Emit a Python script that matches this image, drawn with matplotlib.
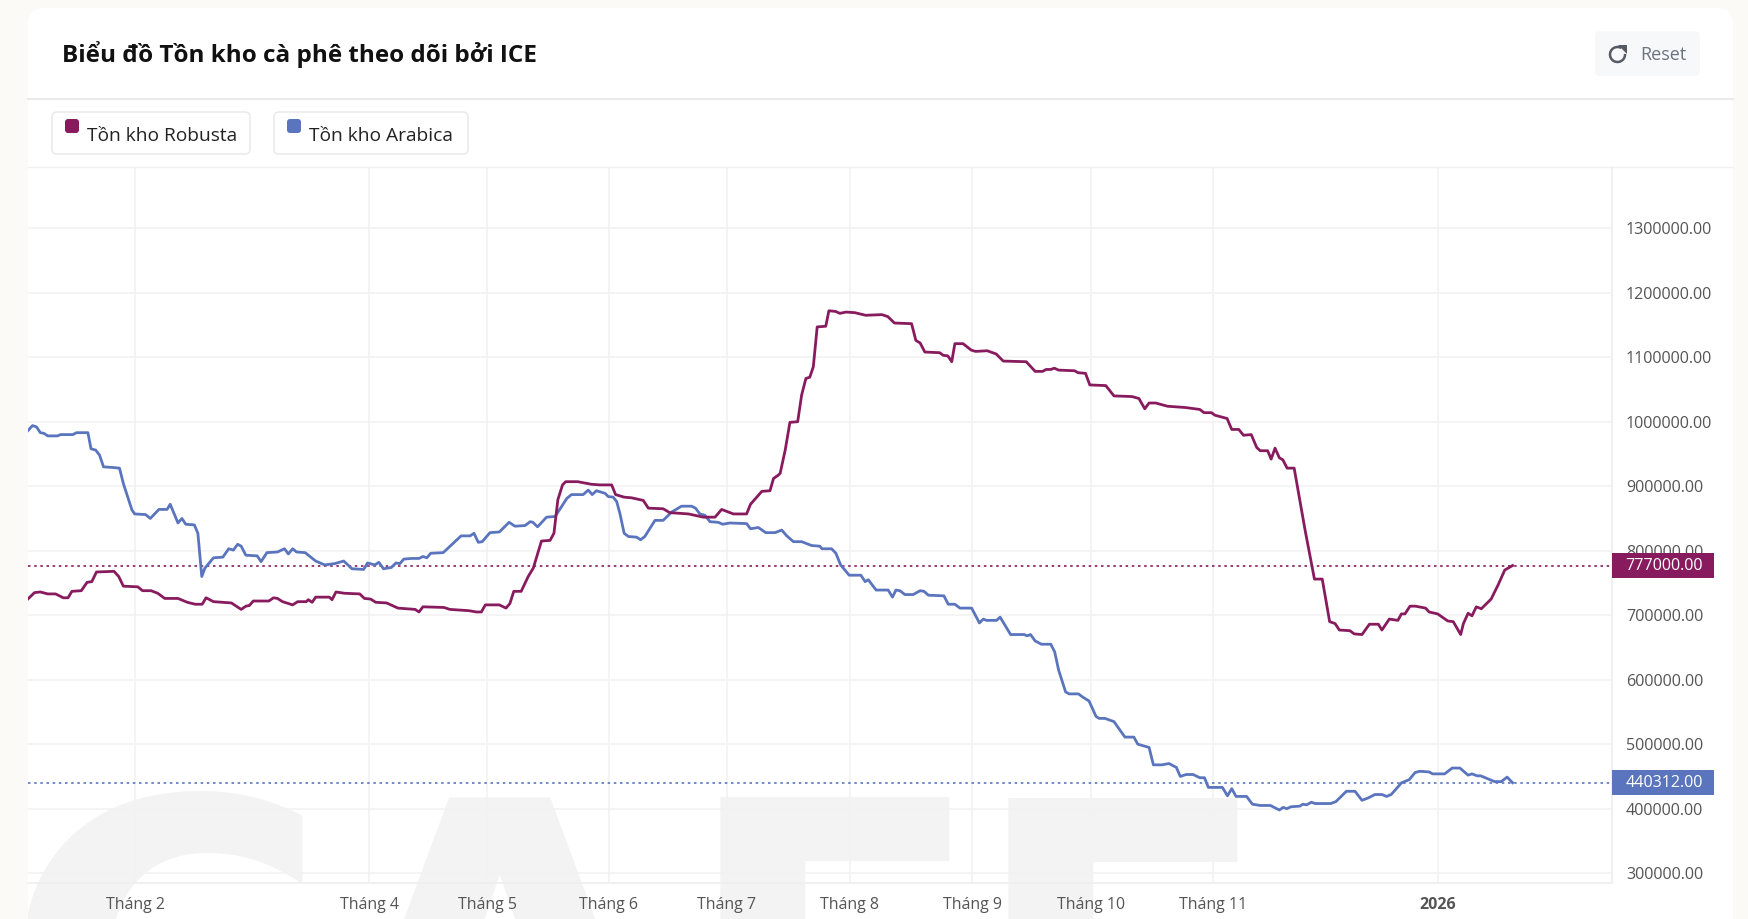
import numpy as np
import matplotlib
import matplotlib.pyplot as plt
from matplotlib.patches import FancyBboxPatch, Polygon, Rectangle

matplotlib.use('Agg')
plt.rcParams['font.family'] = ['Open Sans', 'DejaVu Sans']

TITLE = 'Biểu đồ Tồn kho cà phê theo dõi bởi ICE'
ROBUSTA_LABEL = 'Tồn kho Robusta'
ARABICA_LABEL = 'Tồn kho Arabica'

# x is the bar position of the chart, counted from the "Tháng 2" tick
month_ticks = [0, 59.9, 90.2, 121.3, 151.6, 183.1, 214.5, 244.9, 276.3, 334]
month_labels = ['Tháng 2', 'Tháng 4', 'Tháng 5', 'Tháng 6', 'Tháng 7', 'Tháng 8',
	'Tháng 9', 'Tháng 10', 'Tháng 11', '2026']
price_ticks = [300000, 400000, 500000, 600000, 700000, 800000, 900000,
	1000000, 1100000, 1200000, 1300000]

robusta_last = 777000
arabica_last = 440312

# values in thousands
robusta_x = [-27.6, -25.9, -24.4, -22.5, -20.5, -18.5, -17.3, -16.3, -13.9, -12.4, -11.2, -10.0, -5.5, -4.3, -3.1,
	0.6, 1.8, 4.0, 5.7, 7.5, 10.9, 13.3, 15.3, 17.1, 18.1, 20.0, 24.6, 27.1, 28.3, 29.2, 30.2, 34.2, 35.4, 36.4,
	37.7, 40.3, 41.6, 43.8, 44.3, 45.3, 46.2, 49.7, 50.4, 51.4, 53.6, 57.5, 58.7, 60.3, 61.6, 64.4, 67.3, 71.7,
	72.7, 73.7, 79.1, 80.6, 85.5, 87.4, 88.7, 89.7, 93.3, 95.0, 96.0, 97.0, 98.9, 100.7, 102.0, 104.1, 106.3,
	107.3, 108.3, 109.5, 110.3, 113.4, 116.9, 119.1, 122.1, 123.1, 125.3, 127.2, 130.2, 131.5, 135.3, 137.0,
	141.8, 145.6, 148.6, 150.3, 153.3, 156.7, 157.7, 160.6, 162.7, 163.6, 164.8, 165.3, 166.6, 167.8, 169.8,
	170.8, 171.9, 172.9, 173.8, 174.8, 177.0, 177.8, 179.5, 180.6, 182.2, 184.5, 187.2, 191.4, 192.9, 194.6,
	199.0, 200.1, 201.2, 202.4, 206.2, 207.1, 208.3, 209.3, 210.1, 212.2, 214.3, 215.4, 218.4, 220.7, 222.5,
	228.4, 230.7, 232.6, 233.5, 234.7, 235.6, 236.7, 240.8, 241.7, 243.6, 244.7, 248.8, 250.9, 255.5, 257.3,
	258.8, 259.9, 261.6, 264.6, 269.2, 272.9, 274.0, 275.9, 276.8, 279.9, 281.1, 282.9, 284.1, 286.1, 287.5,
	288.4, 290.3, 291.2, 292.2, 293.3, 294.2, 295.3, 297.1, 298.0, 299.9, 301.6, 302.3, 304.3, 306.2, 307.6,
	308.7, 311.4, 312.5, 314.5, 316.4, 318.7, 319.6, 321.5, 323.7, 324.6, 325.5, 326.8, 328.2, 330.8, 331.7,
	333.9, 336.5, 337.9, 339.8, 340.5, 341.7, 342.7, 343.8, 345.1, 347.6, 349.4, 351.1, 353.1]
robusta_k = [725, 735, 736, 733, 733, 727, 727, 737, 738, 751, 752, 767, 768, 760, 745,
	744, 738, 738, 734, 726, 726, 720, 717, 717, 727, 721, 719, 709, 714, 715, 722, 722, 727, 726,
	721, 716, 721, 721, 724, 720, 728, 728, 724, 736, 734, 733, 726, 725, 720, 719, 711, 709,
	705, 713, 712, 709, 707, 705, 705, 716, 716, 711, 718, 737, 737, 760, 773, 815, 816,
	827, 879, 902, 907, 907, 903, 902, 902, 887, 883, 882, 878, 866, 865, 859,
	857, 852, 852, 864, 857, 857, 872, 892, 893, 912, 917, 920, 956, 999, 1000,
	1041, 1067, 1069, 1085, 1147, 1148, 1172, 1171, 1168, 1170, 1169, 1165, 1166, 1163, 1153,
	1152, 1126, 1122, 1108, 1107, 1103, 1102, 1093, 1121, 1121, 1111, 1109, 1110, 1105, 1094,
	1093, 1078, 1078, 1081, 1081, 1083, 1080, 1079, 1076, 1075, 1057, 1056, 1040, 1039, 1036,
	1020, 1029, 1029, 1024, 1022, 1019, 1014, 1014, 1010, 1005, 988, 988, 979, 980, 960,
	955, 955, 942, 959, 944, 941, 928, 928, 897, 832, 778, 756, 756, 690, 687,
	677, 676, 671, 670, 686, 686, 677, 694, 692, 702, 702, 714, 714, 711, 705,
	702, 691, 690, 670, 687, 703, 699, 713, 710, 725, 747, 770, 777]

arabica_x = [-27.6, -26.4, -25.4, -24.4, -23.5, -22.5, -20.0, -19.2, -16.1, -15.1, -12.2, -11.4, -10.2, -9.2, -8.2,
	-5.8, -4.1, -3.1, -0.9, -0.2, 2.6, 3.8, 6.0, 8.1, 8.9, 10.9, 11.9, 12.9, 15.1, 16.0, 17.0, 17.8, 20.0, 22.4,
	23.9, 25.1, 26.2, 27.1, 28.3, 31.2, 32.2, 33.7, 36.4, 38.2, 39.2, 40.3, 41.3, 43.5, 46.2, 48.5, 51.1, 53.4,
	55.5, 58.5, 59.5, 61.4, 62.4, 63.6, 65.6, 66.8, 67.8, 68.8, 70.8, 72.7, 73.7, 74.7, 75.7, 78.9, 83.5, 85.8,
	86.8, 87.9, 88.9, 90.9, 93.3, 95.8, 97.3, 99.9, 101.2, 101.9, 103.1, 105.4, 107.6, 110.6, 111.8, 114.8, 116.1,
	117.1, 118.2, 120.4, 121.2, 122.5, 123.4, 124.2, 125.3, 126.4, 128.5, 129.5, 130.6, 133.2, 135.3, 137.5,
	140.0, 142.6, 143.6, 144.7, 146.0, 147.3, 149.4, 150.6, 152.4, 156.7, 157.7, 159.7, 161.6, 164.0, 165.7,
	167.0, 168.7, 170.8, 173.4, 175.5, 176.0, 178.5, 179.6, 180.8, 183.0, 186.0, 187.1, 187.9, 189.9, 193.0,
	194.1, 195.0, 196.0, 197.3, 199.4, 201.2, 202.2, 203.3, 207.3, 208.4, 210.1, 211.4, 214.4, 216.4, 217.4,
	218.2, 220.8, 221.7, 224.4, 227.9, 228.6, 229.5, 230.7, 232.3, 234.7, 235.7, 236.7, 238.5, 239.4, 241.8,
	242.9, 244.5, 246.3, 247.1, 248.6, 250.9, 253.7, 256.0, 257.0, 259.9, 261.0, 263.2, 265.0, 266.9, 267.9,
	269.4, 271.2, 272.9, 274.1, 275.1, 278.7, 280.0, 281.1, 282.2, 284.9, 286.4, 288.4, 291.0, 293.3, 294.3,
	295.2, 296.3, 298.6, 299.3, 300.3, 301.5, 302.5, 306.5, 307.8, 310.5, 312.7, 314.5, 316.2, 317.8, 319.6,
	320.8, 322.0, 324.6, 326.6, 328.1, 329.3, 331.7, 332.6, 335.7, 337.6, 339.6, 341.7, 342.7, 344.0, 344.9,
	348.5, 350.2, 351.7, 353.1]
arabica_k = [986, 994, 992, 983, 982, 978, 978, 980, 980, 983, 983, 958, 956, 948, 930,
	929, 928, 904, 863, 857, 856, 850, 864, 864, 872, 843, 850, 841, 840, 827, 760, 773, 789, 790,
	803, 801, 810, 807, 793, 792, 783, 797, 798, 803, 795, 803, 798, 797, 784, 778, 780, 784,
	772, 771, 781, 778, 782, 772, 774, 781, 780, 787, 788, 788, 791, 789, 796, 797, 823, 823,
	827, 813, 814, 828, 829, 844, 838, 839, 845, 844, 837, 852, 853, 881, 887, 887, 894,
	887, 893, 889, 884, 883, 876, 858, 827, 822, 821, 817, 822, 847, 847, 860,
	869, 869, 866, 857, 855, 845, 844, 841, 843, 842, 834, 836, 828, 828, 832,
	823, 814, 814, 808, 807, 803, 803, 796, 778, 762, 762, 752, 755, 739, 739,
	728, 739, 738, 732, 732, 738, 737, 731, 730, 717, 717, 711, 711, 688, 694,
	692, 692, 697, 670, 670, 668, 670, 660, 655, 655, 643, 615, 581, 578, 578,
	573, 567, 543, 540, 540, 535, 511, 511, 500, 495, 468, 468, 470, 464, 450,
	453, 453, 448, 448, 433, 433, 420, 431, 419, 419, 407, 405, 405, 398, 402,
	400, 403, 404, 407, 406, 410, 408, 408, 411, 427, 427, 413, 417, 422, 422,
	419, 422, 440, 445, 456, 458, 457, 454, 454, 463, 463, 452, 454, 451, 451,
	442, 442, 449, 440.312]

ROBUSTA_COLOR = '#881b5e'
ARABICA_COLOR = '#5a75bd'
GRID_COLOR = '#f2f2f3'
TICK_COLOR = '#555555'


def draw_chrome(bg):
	# page, card and the header of the widget, in pixels of the screenshot
	bg.add_patch(FancyBboxPatch((28, 8), 1705, 960, boxstyle='round,pad=0,rounding_size=16',
		fc='white', ec='none', zorder=1))
	for left, letter in zip([0, 325, 679, 967], 'CAFE'):
		bg.text(left, 1127, letter, fontsize=325, fontweight='bold', color='#f3f3f3',
			family='DejaVu Sans', ha='left', va='baseline', zorder=2)
	bg.add_patch(Rectangle((0, 0), 28, 919, fc='#fbfaf7', ec='none', zorder=3))

	bg.plot([28, 1733], [99, 99], color='#e6e6e6', lw=1.2, zorder=3)
	bg.plot([28, 1733], [167, 167], color='#f0f0f0', lw=1.0, zorder=3)
	bg.text(62, 55, TITLE, fontsize=17.5, fontweight='bold', color='#111111', ha='left', va='center', zorder=4)

	# reset button
	bg.add_patch(FancyBboxPatch((1595, 31), 105, 45, boxstyle='round,pad=0,rounding_size=5',
		fc='#f6f8fa', ec='none', zorder=3))
	t = np.radians(np.arange(5, 295, 5))
	bg.plot(1617.5 + 7.5 * np.cos(t), 54.5 + 7.5 * np.sin(t), color='#555b63', lw=1.8, zorder=4)
	bg.add_patch(Polygon([[1618, 45], [1627, 45], [1627, 54]], fc='#555b63', ec='none', zorder=4))
	bg.text(1640, 55, 'Reset', fontsize=13, color='#6b7280', ha='left', va='center', zorder=4)

	# legend chips
	chips = [(52, 198, ROBUSTA_LABEL, ROBUSTA_COLOR), (274, 194, ARABICA_LABEL, ARABICA_COLOR)]
	for left, width, label, color in chips:
		bg.add_patch(FancyBboxPatch((left, 112), width, 42, boxstyle='round,pad=0,rounding_size=5',
			fc='white', ec='#e8e8e8', lw=1.0, zorder=3))
		bg.add_patch(FancyBboxPatch((left + 13, 119), 14, 14, boxstyle='round,pad=0,rounding_size=3',
			fc=color, ec='none', zorder=4))
		bg.text(left + 35, 136, label, fontsize=13.8, color='#222222', ha='left', va='center', zorder=4)


def draw_last_value(ax, value, color):
	ax.axhline(value, color=color, lw=1.2, ls=(0, (1.5, 2.2)), zorder=2)
	trans = ax.get_yaxis_transform()
	ax.text(1.0 + 52 / 1584, value, f'{value:.2f}', transform=trans, fontsize=11.6, color='white',
		ha='center', va='center', zorder=6, clip_on=False)
	ax.add_patch(FancyBboxPatch((1.0, value - 19000), 102 / 1584, 38000, transform=trans,
		boxstyle='square,pad=0', fc=color, ec='none', zorder=5, clip_on=False))


def main():
	fig = plt.figure(figsize=(17.48, 9.19), dpi=100, facecolor='#fbfaf7')

	bg = fig.add_axes([0, 0, 1, 1], zorder=0)
	bg.set_xlim(0, 1748)
	bg.set_ylim(919, 0)
	bg.axis('off')
	draw_chrome(bg)

	ax = fig.add_axes([28 / 1748, 1 - 883 / 919, 1584 / 1748, 716 / 919], zorder=1)
	ax.patch.set_alpha(0)
	ax.set_xlim(-27.56, 378.6)
	ax.set_ylim(284800, 1394900)
	ax.yaxis.tick_right()

	ax.set_xticks(month_ticks, month_labels, fontsize=11.5, color=TICK_COLOR)
	ax.get_xticklabels()[-1].set_fontweight('bold')
	ax.set_yticks(price_ticks, [f'{p:.2f}' for p in price_ticks], fontsize=11.6, color=TICK_COLOR)
	ax.tick_params(axis='both', length=0)
	ax.tick_params(axis='x', pad=10)
	ax.tick_params(axis='y', pad=10)
	ax.grid(True, color=GRID_COLOR, lw=1.2)
	ax.set_axisbelow(True)
	for side in ['top', 'left']:
		ax.spines[side].set_visible(False)
	for side in ['right', 'bottom']:
		ax.spines[side].set_color('#eeeeee')
		ax.spines[side].set_linewidth(1.2)

	draw_last_value(ax, robusta_last, ROBUSTA_COLOR)
	draw_last_value(ax, arabica_last, ARABICA_COLOR)
	ax.plot(arabica_x, [k * 1000 for k in arabica_k], color=ARABICA_COLOR, lw=2.0, zorder=3)
	ax.plot(robusta_x, [k * 1000 for k in robusta_k], color=ROBUSTA_COLOR, lw=2.0, zorder=4)

	fig.savefig('out.png', dpi=100, facecolor=fig.get_facecolor())


if __name__ == '__main__':
	main()
